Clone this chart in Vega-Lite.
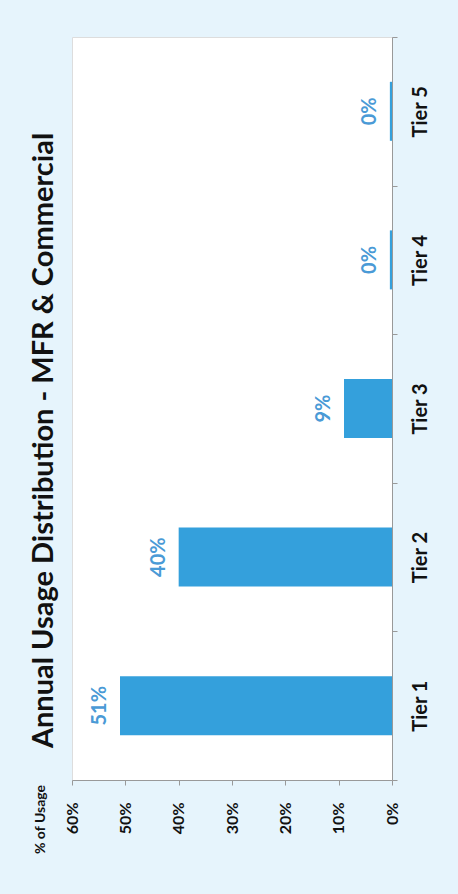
{
  "$schema": "https://vega.github.io/schema/vega-lite/v6.json",
  "width": 320,
  "height": 743,
  "autosize": {"type": "none"},
  "padding": {"left": 72, "top": 37, "right": 66, "bottom": 114},
  "background": "#e6f4fc",
  "title": {
    "text": "Annual Usage Distribution - MFR & Commercial",
    "orient": "left",
    "anchor": "middle",
    "angle": -90,
    "font": "Lato",
    "fontSize": 29,
    "fontWeight": "bold",
    "color": "#111111",
    "offset": -26,
    "dx": -32
  },
  "config": {
    "view": {"fill": "white", "stroke": "#dddddd"},
    "font": "Lato"
  },
  "data": {
    "values": [
      {"tier": "Tier 1", "share": 0.51},
      {"tier": "Tier 2", "share": 0.40},
      {"tier": "Tier 3", "share": 0.09},
      {"tier": "Tier 4", "share": 0.004},
      {"tier": "Tier 5", "share": 0.004}
    ]
  },
  "encoding": {
    "y": {
      "field": "tier",
      "type": "nominal",
      "sort": "descending",
      "scale": {"paddingInner": 0, "paddingOuter": 0},
      "axis": {
        "orient": "right",
        "title": null,
        "labelAngle": -90,
        "labelAlign": "center",
        "labelBaseline": "middle",
        "labelPadding": 23,
        "tickSize": 5,
        "tickBand": "extent",
        "labelFont": "Lato",
        "labelFontSize": 20,
        "labelFontWeight": "bold",
        "labelColor": "#111111",
        "domainColor": "#999999",
        "tickColor": "#999999",
        "grid": false
      }
    },
    "x": {
      "field": "share",
      "type": "quantitative",
      "scale": {"domain": [0, 0.6], "reverse": true},
      "axis": {
        "orient": "bottom",
        "title": "% of Usage",
        "titleAngle": -90,
        "titleX": -32,
        "titleY": 39,
        "titleAlign": "center",
        "titleBaseline": "middle",
        "titleFont": "Lato",
        "titleFontSize": 14,
        "titleFontWeight": "bold",
        "titleColor": "#111111",
        "format": ".0%",
        "values": [0, 0.1, 0.2, 0.3, 0.4, 0.5, 0.6],
        "labelAngle": -90,
        "labelAlign": "right",
        "labelBaseline": "middle",
        "labelPadding": 17,
        "labelOverlap": false,
        "labelFlush": false,
        "tickSize": 5,
        "labelFont": "Lato",
        "labelFontSize": 16,
        "labelFontWeight": "bold",
        "labelColor": "#111111",
        "domainColor": "#999999",
        "tickColor": "#999999",
        "grid": false
      }
    }
  },
  "layer": [
    {"mark": {"type": "bar", "size": 59, "color": "#34a0dc"}},
    {
      "mark": {
        "type": "text",
        "angle": -90,
        "dy": -20,
        "align": "center",
        "baseline": "middle",
        "font": "Lato",
        "fontSize": 20,
        "fontWeight": "bold",
        "color": "#4a9ad6"
      },
      "encoding": {"text": {"field": "share", "format": ".0%"}}
    }
  ]
}
